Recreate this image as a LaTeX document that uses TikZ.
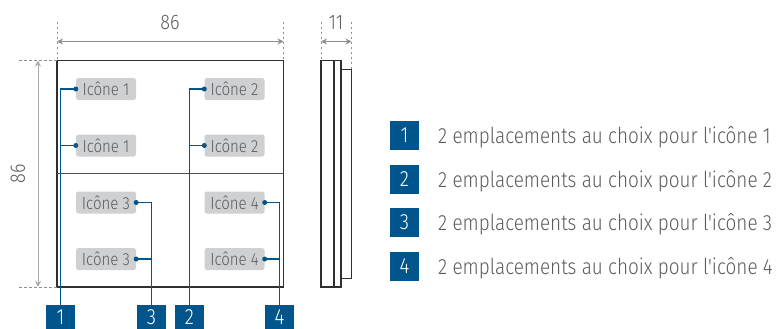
\documentclass[tikz,border=0pt]{standalone}
\usepackage{fontspec}
\setmainfont[FakeStretch=0.86,Ligatures=TeXOff]{Fira Sans Light}
\usetikzlibrary{arrows.meta}
\definecolor{navy}{HTML}{00558C}
\definecolor{txt}{HTML}{5A5C5E}
\definecolor{dimc}{HTML}{8C8E90}
\definecolor{chip}{HTML}{CFD0D1}
\definecolor{edge}{HTML}{303030}
\tikzset{x=1pt,y=-1pt,
 chipbox/.style={fill=chip,rounded corners=2.5pt,minimum width=60pt,minimum height=22pt,inner sep=0pt,text=txt,font=\fontsize{17.5}{17.5}\selectfont},
 badge/.style={fill=navy,minimum width=29pt,minimum height=24pt,inner sep=0pt,text=white,font=\fontsize{22}{22}\selectfont},
 legbox/.style={fill=navy,minimum width=29pt,minimum height=29pt,inner sep=0pt,text=white,font=\fontsize{22}{22}\selectfont},
 legtxt/.style={anchor=west,inner sep=0pt,text=txt,font=\fontsize{22}{22}\selectfont},
 dimtxt/.style={inner sep=0pt,text=txt,font=\fontsize{21}{21}\selectfont},
 dot/.style={circle,fill=navy,minimum size=5pt,inner sep=0pt},
 wire/.style={draw=navy,line width=1.1pt},
 body/.style={draw=edge,line width=1.2pt},
 dimline/.style={draw=dimc,line width=1pt,{Stealth[length=6pt,width=6pt]}-{Stealth[length=6pt,width=6pt]}},
 guide/.style={draw=dimc,line width=.7pt,dash pattern=on 2.5pt off 2.5pt}}
\begin{document}
\begin{tikzpicture}
\useasboundingbox (0,0) rectangle (776,329);
% panel
\coordinate (pTL) at (57,60.5); \coordinate (pBR) at (283.5,287);
\draw[body] (pTL) rectangle (pBR);
\coordinate (pML) at (57,173.5); \coordinate (pMR) at (283.5,173.5);
\draw[body,draw=edge!85,line width=1.4pt] (pML) -- (pMR);
% chips
\node[chipbox] (a1) at (106,89) {Icône 1};
\node[chipbox] (a2) at (106,145.5) {Icône 1};
\node[chipbox] (c1) at (234.5,89) {Icône 2};
\node[chipbox] (c2) at (234.5,145.5) {Icône 2};
\node[chipbox] (b1) at (106,202.5) {Icône 3};
\node[chipbox] (b2) at (106,259) {Icône 3};
\node[chipbox] (e1) at (234.5,202.5) {Icône 4};
\node[chipbox] (e2) at (234.5,259) {Icône 4};
% badges
\node[badge] (n1) at (60.5,317) {1};
\node[badge] (n3) at (151.5,317) {3};
\node[badge] (n2) at (189.5,317) {2};
\node[badge] (n4) at (279.5,317) {4};
% dots
\node[dot] (da1) at (a1.west) {};
\node[dot] (da2) at (a2.west) {};
\node[dot] (dc1) at (c1.west) {};
\node[dot] (dc2) at (c2.west) {};
\node[dot] (db1) at (b1.east) {};
\node[dot] (db2) at (b2.east) {};
\node[dot] (de1) at (e1.east) {};
\node[dot] (de2) at (e2.east) {};
% wires
\draw[wire] (n1.north) |- (da1.center);
\draw[wire] (n1.north |- da2) -- (da2.center);
\draw[wire] (n2.north) |- (dc1.center);
\draw[wire] (n2.north |- dc2) -- (dc2.center);
\draw[wire] (n3.north) |- (db1.center);
\draw[wire] (n3.north |- db2) -- (db2.center);
\draw[wire] (n4.north) |- (de1.center);
\draw[wire] (n4.north |- de2) -- (de2.center);
% dimensions
\coordinate (t1) at (57,41.5); \coordinate (t2) at (283.5,41.5);
\draw[dimline] (t1) -- (t2);
\node[dimtxt] (w) at (170,22.5) {86};
\draw[guide] (57,22) -- (pTL);
\draw[guide] (283.5,22) -- (283.5,60.5);
\coordinate (l1) at (38,60.5); \coordinate (l2) at (38,287);
\draw[dimline,draw=dimc!75] (l1) -- (l2);
\node[dimtxt,rotate=90] (h) at (18,173.5) {86};
\draw[guide] (19,60.5) -- (pTL);
\draw[guide] (19,287) -- (57,287);
% side view
\draw[body] (321,60.5) rectangle (341,287);
\draw[edge,line width=1.5pt] (334,60.5) -- (334,287);
\draw[body] (341,69.5) rectangle (351.5,278.3);
\coordinate (s1) at (321,41.5); \coordinate (s2) at (351.5,41.5);
\draw[dimline] (s1) -- (s2);
\node[dimtxt] (d) at (336,22.5) {11};
\draw[guide] (321,22) -- (321,60.5);
\draw[guide] (351.5,22) -- (351.5,69.5);
% legend
\foreach \n/\y in {1/135.5,2/179.5,3/222.5,4/266.5}{
 \node[legbox] (k\n) at (404.5,\y) {\n};
 \node[legtxt] (x\n) at (438,\y+1.5) {2 emplacements au choix pour l'icône \n};
}
\end{tikzpicture}
\end{document}
